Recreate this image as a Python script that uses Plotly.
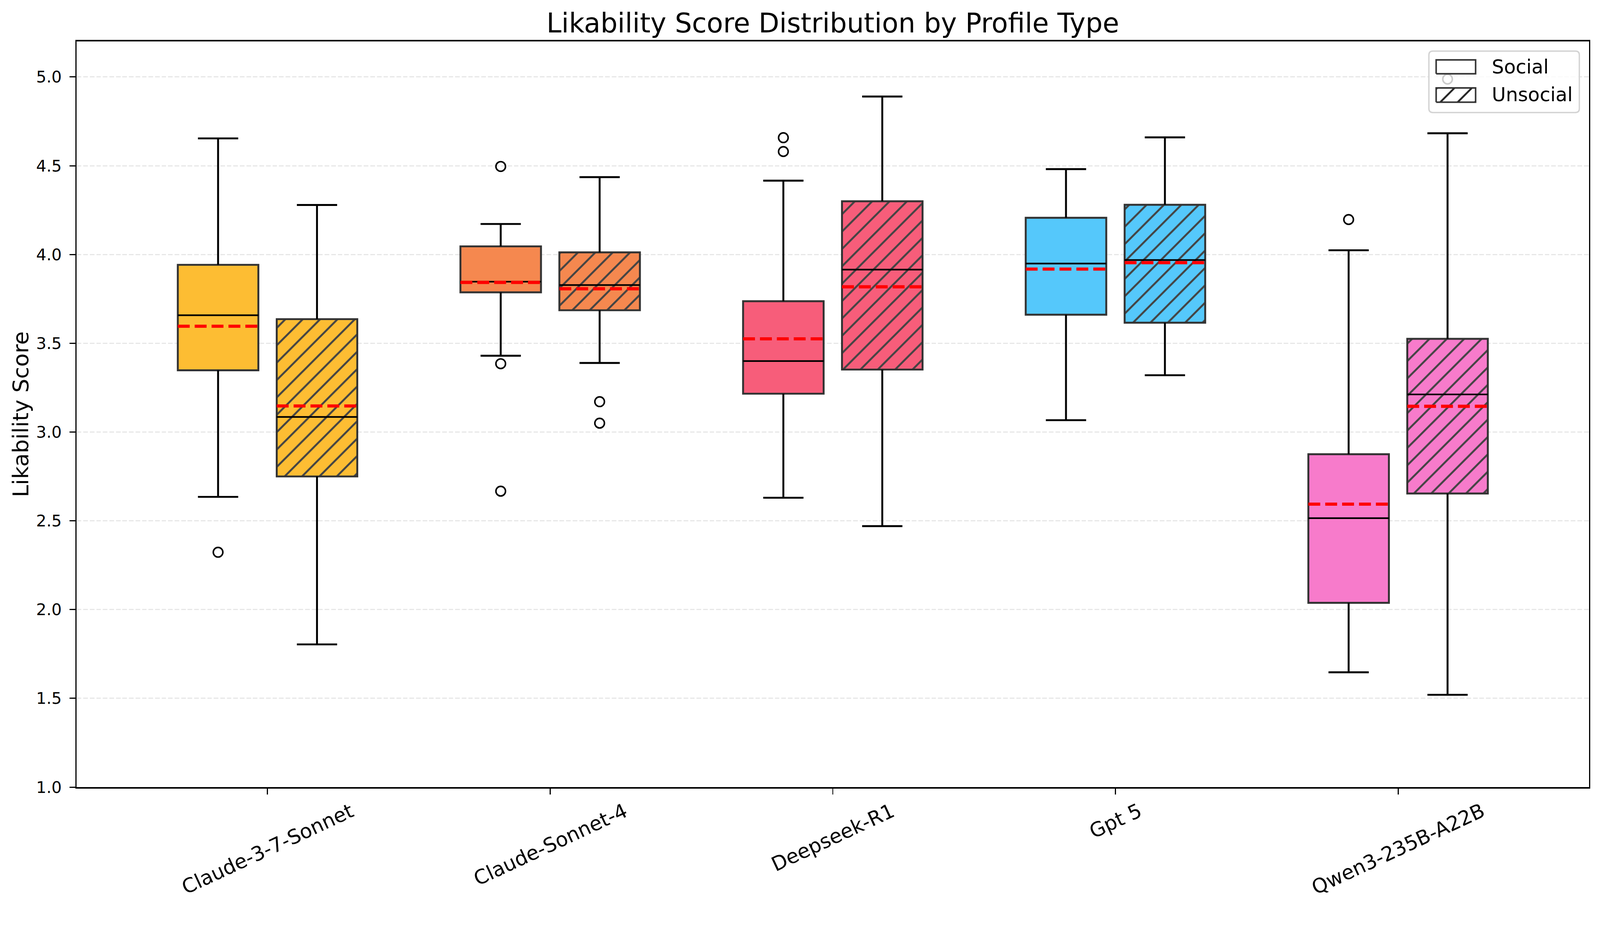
import plotly.graph_objects as go

# ---------------- data ----------------
categories = ["Claude-3-7-Sonnet", "Claude-Sonnet-4", "Deepseek-R1", "Gpt 5", "Qwen3-235B-A22B"]
colors = ["#FDBD33", "#F5884F", "#F75D7A", "#55C8FB", "#F77BCB"]

social_low = [2.635, 3.43, 2.63, 3.067, 1.647]
social_q1 = [3.348, 3.787, 3.216, 3.661, 2.038]
social_median = [3.658, 3.847, 3.40, 3.949, 2.515]
social_mean = [3.596, 3.843, 3.525, 3.918, 2.594]
social_q3 = [3.942, 4.046, 3.737, 4.207, 2.875]
social_high = [4.654, 4.172, 4.416, 4.481, 4.024]
social_outliers = [[2.323], [4.496, 3.385, 2.667], [4.658, 4.58], [], [4.197]]

unsocial_low = [1.804, 3.389, 2.47, 3.32, 1.52]
unsocial_q1 = [2.750, 3.686, 3.352, 3.616, 2.654]
unsocial_median = [3.085, 3.828, 3.915, 3.969, 3.212]
unsocial_mean = [3.147, 3.807, 3.818, 3.954, 3.145]
unsocial_q3 = [3.636, 4.012, 4.30, 4.28, 3.525]
unsocial_high = [4.279, 4.436, 4.89, 4.66, 4.683]
unsocial_outliers = [[], [3.171, 3.05], [], [], [4.988]]

y_ticks = [1.0, 1.5, 2.0, 2.5, 3.0, 3.5, 4.0, 4.5, 5.0]
legend_labels = ["Social", "Unsocial"]

# ---------------- style ----------------
W, H = 4169, 2372
OFF = 0.175
BW = 0.285
CAP = BW / 4
FONT = "DejaVu Sans"
EDGE = "#333333"
HATCH = dict(shape="/", size=32, solidity=0.16, fgcolor="#111111", fgopacity=1, fillmode="overlay")

fig = go.Figure()

groups = [
    (-OFF, social_low, social_q1, social_median, social_mean, social_q3, social_high, social_outliers, False),
    (OFF, unsocial_low, unsocial_q1, unsocial_median, unsocial_mean, unsocial_q3, unsocial_high, unsocial_outliers, True),
]

for off, lo, q1, med, mean, q3, hi, outl, hatched in groups:
    pos = [i + off for i in range(len(categories))]
    wx, wy = [], []
    for p, a, b, c, d in zip(pos, lo, q1, q3, hi):
        wx += [p, p, None, p, p, None, p - CAP, p + CAP, None, p - CAP, p + CAP, None]
        wy += [b, a, None, c, d, None, a, a, None, d, d, None]
    fig.add_trace(go.Scatter(x=wx, y=wy, mode="lines", line=dict(color="black", width=5),
                             showlegend=False, hoverinfo="skip"))
    marker = dict(color=colors, line=dict(color=EDGE, width=5))
    if hatched:
        marker["pattern"] = HATCH
    fig.add_trace(go.Bar(x=pos, y=[b - a for a, b in zip(q1, q3)], base=q1, width=BW,
                         marker=marker, showlegend=False))
    mx, my = [], []
    for p, m in zip(pos, med):
        mx += [p - BW / 2, p + BW / 2, None]
        my += [m, m, None]
    fig.add_trace(go.Scatter(x=mx, y=my, mode="lines", line=dict(color="black", width=4.2),
                             showlegend=False, hoverinfo="skip"))
    ex, ey = [], []
    for p, m in zip(pos, mean):
        ex += [p - BW / 2, p + BW / 2, None]
        ey += [m, m, None]
    fig.add_trace(go.Scatter(x=ex, y=ey, mode="lines",
                             line=dict(color="red", width=8.3, dash="31px,13px"),
                             showlegend=False, hoverinfo="skip"))
    ox, oy = [], []
    for p, vals in zip(pos, outl):
        for v in vals:
            ox.append(p)
            oy.append(v)
    fig.add_trace(go.Scatter(x=ox, y=oy, mode="markers",
                             marker=dict(symbol="circle-open", size=25, color="black", line=dict(width=4)),
                             showlegend=False))

# ---------------- legend (drawn in plot-area fraction coordinates on an overlay axis) ----------------
LEG_BOX = (0.8942, 0.9937, 0.9047, 0.9871)     # x0, x1, y0, y1
LEG_PATCH_X = (0.899, 0.9251)
LEG_PATCH_Y = [(0.9567, 0.9753), (0.9186, 0.9377)]
LEG_TEXT_X = 0.9353
LEG_TEXT_Y = [0.966, 0.9284]
RX, RY = 0.0026, 0.0053   # corner rounding

bx0, bx1, by0, by1 = LEG_BOX
fig.add_trace(go.Scatter(x=[bx0, bx1, bx1, bx0, bx0], y=[by0, by0, by1, by1, by0], mode="lines",
                         fill="toself", fillcolor="rgba(255,255,255,0.8)",
                         line=dict(color="rgba(0,0,0,0)", width=0),
                         xaxis="x2", yaxis="y2", showlegend=False, hoverinfo="skip"))
for k, (py0, py1) in enumerate(LEG_PATCH_Y):
    px0, px1 = LEG_PATCH_X
    kw = {}
    if k == 1:
        kw["fillpattern"] = dict(shape="/", size=32, solidity=0.15, fgcolor="#222222",
                                 bgcolor="white", fillmode="replace")
    fig.add_trace(go.Scatter(x=[px0, px1, px1, px0, px0], y=[py0, py0, py1, py1, py0], mode="lines",
                             fill="toself", fillcolor="white", line=dict(color=EDGE, width=4),
                             xaxis="x2", yaxis="y2", showlegend=False, hoverinfo="skip", **kw))
    fig.add_annotation(x=LEG_TEXT_X, y=LEG_TEXT_Y[k], xref="paper", yref="paper", text=legend_labels[k],
                       showarrow=False, xanchor="left", yanchor="middle",
                       font=dict(family=FONT, size=50, color="black"))
leg_path = (f"M {bx0 + RX},{by0} L {bx1 - RX},{by0} Q {bx1},{by0} {bx1},{by0 + RY} "
            f"L {bx1},{by1 - RY} Q {bx1},{by1} {bx1 - RX},{by1} "
            f"L {bx0 + RX},{by1} Q {bx0},{by1} {bx0},{by1 - RY} "
            f"L {bx0},{by0 + RY} Q {bx0},{by0} {bx0 + RX},{by0} Z")
fig.add_shape(type="path", path=leg_path, xref="paper", yref="paper",
              line=dict(color="#d3d3d3", width=3.5), fillcolor="rgba(0,0,0,0)", layer="above")

# category labels (rotated, centred under ticks)
for i, c in enumerate(categories):
    fig.add_annotation(x=i, y=0, xref="x", yref="paper", text=c, showarrow=False,
                       textangle=-25, xanchor="center", yanchor="top", yshift=-28,
                       font=dict(family=FONT, size=52, color="black"))

fig.add_annotation(x=-0.0373, y=0.5, xref="paper", yref="paper", text="Likability Score",
                   showarrow=False, textangle=-90, xanchor="center", yanchor="middle",
                   font=dict(family=FONT, size=57, color="black"))

fig.update_layout(
    width=W, height=H,
    margin=dict(l=200, r=29, t=108, b=322),
    paper_bgcolor="white", plot_bgcolor="white",
    barmode="overlay", showlegend=False,
    font=dict(family=FONT, size=42, color="black"),
    title=dict(text="Likability Score Distribution by Profile Type", x=0.5, xref="paper",
               y=1 - 60 / H, yref="container", xanchor="center", yanchor="middle",
               font=dict(family=FONT, size=70, color="black")),
    xaxis=dict(range=[-0.675, 4.675], tickvals=list(range(len(categories))),
               ticktext=[""] * len(categories),
               showgrid=False, zeroline=False, showline=True, linecolor="black", linewidth=3.5, mirror=True,
               ticks="outside", ticklen=15, tickwidth=3.3, tickcolor="black"),
    yaxis=dict(range=[1.0, 5.2], tickvals=y_ticks, tickformat=".1f",
               showgrid=True, gridcolor="rgb(231,231,231)", gridwidth=3.3, griddash="12px,5px",
               zeroline=False, showline=True, linecolor="black", linewidth=3.5, mirror=True,
               ticks="outside", ticklen=15, tickwidth=3.3, tickcolor="black", ticklabelstandoff=12,
               tickfont=dict(family=FONT, size=42, color="black")),
    xaxis2=dict(overlaying="x", range=[0, 1], visible=False, fixedrange=True),
    yaxis2=dict(overlaying="y", range=[0, 1], visible=False, fixedrange=True),
)

fit_script = """
document.documentElement.style.margin='0';
document.body.style.margin='0';
document.documentElement.style.overflow='hidden';
document.body.style.overflow='hidden';
var gd = document.getElementById('{plot_id}');
var s = window.innerWidth / %d;
gd.style.transformOrigin = '0 0';
gd.style.transform = 'scale(' + s + ')';
""" % W

fig.write_html("out.html", post_script=fit_script, config={"displayModeBar": False})
